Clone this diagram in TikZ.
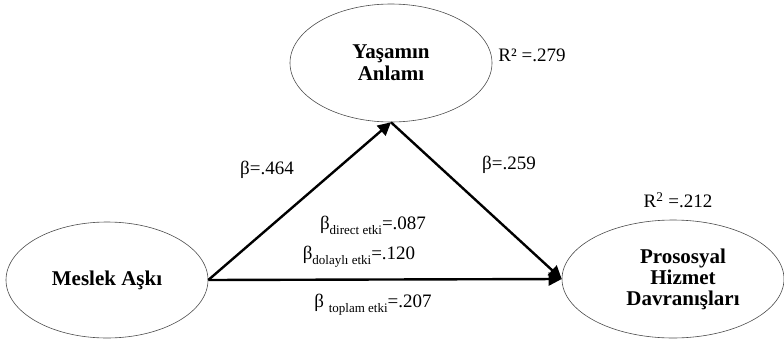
\documentclass[tikz,border=0pt]{standalone}
\usepackage{fontspec}
\setmainfont{Liberation Serif}
\usetikzlibrary{arrows.meta, shapes.geometric}

\tikzset{
  latent/.style={ellipse, draw=black!70, line width=0.6pt, inner sep=0pt,
    align=center, font=\fontsize{21}{23}\selectfont\bfseries},
  path/.style={-{Triangle[length=13pt, width=13pt]}, line width=2.4pt},
  coef/.style={font=\fontsize{19}{21}\selectfont}
}
\newcommand{\subtxt}[1]{\raisebox{-0.6ex}{\fontsize{13}{13}\selectfont #1}}

\begin{document}
\begin{tikzpicture}[x=1pt, y=-1pt]
  \useasboundingbox (0,0) rectangle (784,340);

  % Variables
  \node[latent, minimum width=202pt, minimum height=118pt] (yasam) at (391,63)
    {Yaşamın\\[-1pt]Anlamı};
  \node[latent, minimum width=202pt, minimum height=116pt] (meslek) at (107,280)
    {Meslek Aşkı};
  \node[latent, minimum width=222pt, minimum height=118pt] (prosos) at (673,279)
    {\hspace*{20pt}Prososyal\\[-2pt]\hspace*{20pt}Hizmet\\[-2pt]\hspace*{20pt}Davranışları};

  % Explained variance
  \node[coef] (r1) at (532,55) {R² =.279};
  \node[coef] (r2) at (678,200) {R$^{\mathrm{2}}$ =.212};

  % Paths
  \draw[path] (meslek.east) -- (yasam.south);
  \draw[path] (yasam.south) -- (prosos.west);
  \draw[path] (meslek.east) -- (prosos.west);

  % Coefficients
  \node[coef] (b1) at (267,170) {β=.464};
  \node[coef] (b2) at (509,165) {β=.259};
  \node[coef] (b3) at (373,225) {β\subtxt{direct etki}=.087};
  \node[coef] (b4) at (359,257) {β\subtxt{dolaylı etki}=.120};
  \node[coef] (b5) at (373,305) {β \subtxt{toplam etki}=.207};
\end{tikzpicture}
\end{document}
